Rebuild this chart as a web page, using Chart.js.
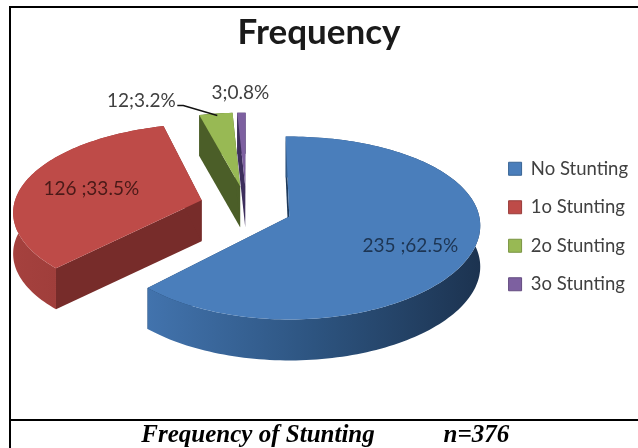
<!DOCTYPE html>
<html>
<head>
<meta charset="utf-8">
<title>Frequency of Stunting</title>
<script src="https://cdn.jsdelivr.net/npm/chart.js@4"></script>
<style>
  html, body { margin: 0; padding: 0; background: #fff; }
  canvas { display: block; }
</style>
</head>
<body>
<canvas id="chart" width="638" height="448"></canvas>
<script>
const categories = ["No Stunting", "1o Stunting", "2o Stunting", "3o Stunting"];
const frequency = [235, 126, 12, 3];
const labelGaps = [" ", " ", "", ""];

const topColors = ["#4a7ebb", "#be4b48", "#98b954", "#7d60a0"];
const edgeColors = ["#3a6595", "#983c3a", "#7a9443", "#644d80"];
const wallColors = ["#1d3a5c", "#772c2a", "#4b5e28", "#3d2e5c"];
const sideStops = [
  ["#4273ad", "#2d5480", "#1c3350"],
  ["#a5413e", "#9c3c39", "#8a3432"],
  ["#4b5e28", "#4b5e28", "#4b5e28"],
  ["#3d2e5c", "#3d2e5c", "#3d2e5c"],
];
const labelColors = ["#1d3553", "#4a1a18", "#404040", "#404040"];

// slice explosion on the pie plane, in radius units
const explode = [[0, 0], [-0.47, -0.186], [-0.268, -0.35], [-0.24, -0.35]];
// label centres relative to the pie centre, px
const labelSpots = [[121, 29], [-198, -28], [-148, -116], [-49, -124]];

const total = frequency.reduce((a, b) => a + b, 0);
const sliceLabel = (i) =>
  frequency[i] + labelGaps[i] + ";" + ((frequency[i] / total) * 100).toFixed(1) + "%";

const DEPTH = 41;
const SHIFT_X = 45;
const SHIFT_Y = -16.5;

// perspective projection of a point on the pie plane
function project(cx, cy, u, v) {
  return {
    x: cx + (190 * u) / (1 - 0.1 * v),
    y: cy + (90 * v) / (1 - 0.1257 * v),
  };
}

function fillPoly(ctx, pts, fill) {
  ctx.beginPath();
  pts.forEach((p, i) => (i ? ctx.lineTo(p.x, p.y) : ctx.moveTo(p.x, p.y)));
  ctx.closePath();
  ctx.fillStyle = fill;
  ctx.fill();
}

const down = (p) => ({ x: p.x, y: p.y + DEPTH });

const pie3d = {
  id: "pie3d",
  beforeDraw(chart) {
    const ctx = chart.ctx;
    // frame around the figure
    ctx.save();
    ctx.fillStyle = "#000";
    ctx.fillRect(9, 6, 629, 2);
    ctx.fillRect(9, 6, 2, 442);
    ctx.fillRect(9, 419, 629, 2);
    ctx.restore();
  },
  beforeDatasetsDraw(chart) {
    const ctx = chart.ctx;
    const arcs = chart.getDatasetMeta(0).data;
    const cx = arcs[0].x + SHIFT_X;
    const cy = arcs[0].y + SHIFT_Y;
    ctx.save();
    arcs.forEach((arc, i) => {
      const [ou, ov] = explode[i];
      const rim = [];
      const steps = Math.max(6, Math.ceil((arc.endAngle - arc.startAngle) * 40));
      for (let s = 0; s <= steps; s++) {
        const a = arc.startAngle + ((arc.endAngle - arc.startAngle) * s) / steps;
        rim.push(project(cx, cy, ou + Math.cos(a), ov + Math.sin(a)));
      }
      const apex = project(cx, cy, ou, ov);
      const first = rim[0];
      const last = rim[rim.length - 1];

      // flat cut faces
      fillPoly(ctx, [apex, first, down(first), down(apex)], wallColors[i]);
      fillPoly(ctx, [apex, last, down(last), down(apex)], wallColors[i]);

      // curved outer wall
      const xs = rim.map((p) => p.x);
      const grad = ctx.createLinearGradient(Math.min(...xs), 0, Math.max(...xs), 0);
      sideStops[i].forEach((c, k) => grad.addColorStop(k / 2, c));
      fillPoly(ctx, rim.concat(rim.map(down).reverse()), grad);

      // top face
      fillPoly(ctx, [apex].concat(rim), topColors[i]);
    });

    // leader from the green slice to its label
    ctx.strokeStyle = "#111";
    ctx.lineWidth = 1.5;
    ctx.beginPath();
    ctx.moveTo(cx - 112, cy - 111);
    ctx.lineTo(cx - 106, cy - 111);
    ctx.lineTo(cx - 72, cy - 101);
    ctx.stroke();

    ctx.font = "19px Lato";
    ctx.textAlign = "center";
    ctx.textBaseline = "middle";
    arcs.forEach((arc, i) => {
      ctx.fillStyle = labelColors[i];
      ctx.fillText(sliceLabel(i), cx + labelSpots[i][0], cy + labelSpots[i][1]);
    });
    ctx.restore();
    return false;
  },
};

new Chart(document.getElementById("chart"), {
  type: "pie",
  data: {
    labels: categories,
    datasets: [
      {
        label: "Frequency",
        data: frequency,
        backgroundColor: topColors,
        borderColor: edgeColors,
        borderWidth: 1,
      },
    ],
  },
  options: {
    responsive: false,
    animation: false,
    rotation: -1.2,
    layout: { padding: { top: 5 } },
    plugins: {
      title: {
        display: true,
        text: "Frequency",
        color: "#1a1a1a",
        font: { family: "Lato", size: 35, weight: "bold" },
        padding: { top: 7, bottom: 5 },
      },
      subtitle: {
        display: true,
        position: "bottom",
        text: "  Frequency of Stunting           n=376",
        color: "#000",
        font: { family: "'Liberation Serif'", size: 25, weight: "bold", style: "italic", lineHeight: 1 },
        padding: { top: 16, bottom: 0 },
      },
      legend: {
        position: "right",
        labels: {
          boxWidth: 13,
          boxHeight: 13,
          padding: 20,
          color: "#404040",
          font: { family: "Lato", size: 18.5 },
        },
      },
      tooltip: { enabled: false },
    },
  },
  plugins: [pie3d],
});
</script>
</body>
</html>
